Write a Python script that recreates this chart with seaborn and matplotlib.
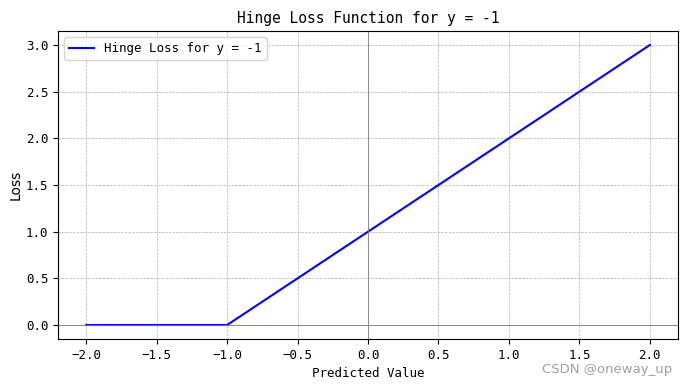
import matplotlib
matplotlib.use("Agg")
import matplotlib.pyplot as plt
import seaborn as sns
import pandas as pd

# values (hinge loss breakpoints for y = -1)
predicted = [-2.0, -1.0, 2.0]
loss = [0.0, 0.0, 3.0]
x_ticks = [-2.0, -1.5, -1.0, -0.5, 0.0, 0.5, 1.0, 1.5, 2.0]
y_ticks = [0.0, 0.5, 1.0, 1.5, 2.0, 2.5, 3.0]

plt.rcParams['font.family'] = ['DejaVu Sans Mono', 'DejaVu Sans']
plt.rcParams['font.size'] = 9

df = pd.DataFrame({"Predicted Value": predicted, "Loss": loss})

fig, ax = plt.subplots(figsize=(6.88, 3.87), dpi=100)
fig.subplots_adjust(left=0.0843, right=0.9855, top=0.9199, bottom=0.124)

sns.lineplot(data=df, x="Predicted Value", y="Loss", color="blue",
             linewidth=1.5, label="Hinge Loss for y = -1", ax=ax)

ax.axhline(0, color="gray", linewidth=0.6)
ax.axvline(0, color="gray", linewidth=0.6)
ax.grid(True, linestyle="--", linewidth=0.5, color="#b0b0b0")

ax.set_xticks(x_ticks)
ax.set_yticks(y_ticks)
ax.set_title("Hinge Loss Function for y = -1", fontsize=10.5)
ax.set_xlabel("Predicted Value", fontsize=9)
ax.set_ylabel("Loss", family="DejaVu Sans", fontsize=10, labelpad=2)
ax.legend(loc="upper left", fontsize=9)

fig.text(0.977, 0.062, "CSDN @oneway_up", ha="right", va="top",
         color="#a0a0a0", fontsize=9.5, family="DejaVu Sans")

fig.savefig("out.png", dpi=100)
